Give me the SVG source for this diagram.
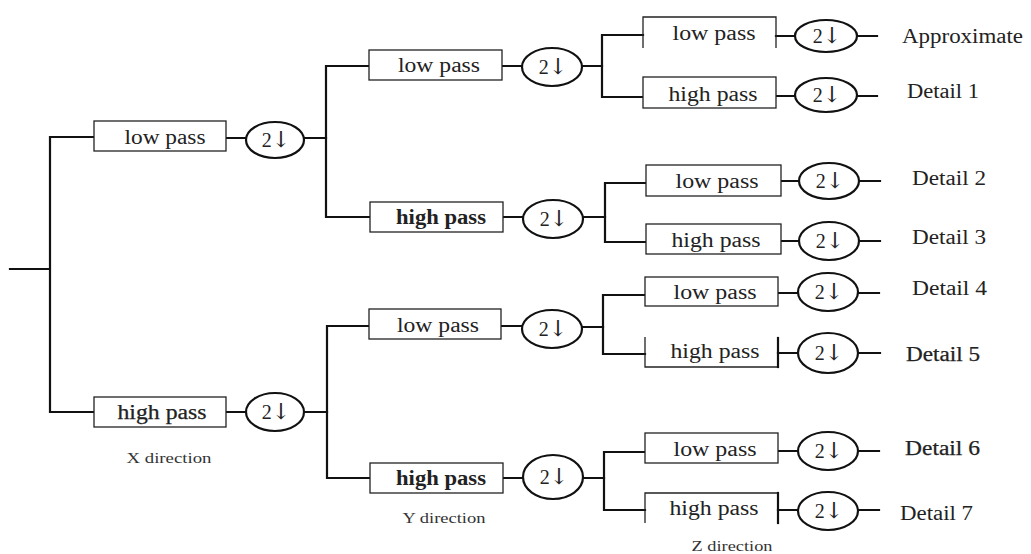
<svg xmlns="http://www.w3.org/2000/svg" width="1031" height="554" viewBox="0 0 1031 554">
  <style>
    .wire { stroke: #111; stroke-width: 2.2; fill: none; stroke-linecap: square; }
    .box { fill: #fff; stroke: #222; stroke-width: 1.3; }
    .edge { fill: none; stroke: #222; stroke-width: 1.3; }
    .ell { fill: #fff; stroke: #111; stroke-width: 2.2; }
    .lbl { font-family: "Liberation Serif", "Times New Roman", serif; font-size: 20px; fill: #222; text-anchor: middle; }
    .bold { font-weight: bold; }
    .semi { stroke: #222; stroke-width: 0.25; }
    .ds { font-family: "Liberation Serif", "Times New Roman", serif; font-size: 20px; fill: #222; text-anchor: middle; }
    .arr { font-family: "DejaVu Serif", serif; font-size: 22px; }
    .out { font-family: "Liberation Serif", "Times New Roman", serif; font-size: 20px; fill: #222; }
    .dir { font-family: "Liberation Serif", "Times New Roman", serif; font-size: 14px; fill: #333; text-anchor: middle; }
  </style>

  <!-- connectors: input trunk, branch buses and the short links between blocks -->
  <g id="connectors">
    <path class="wire" d="M10,269 H50 M50,137 V412 M50,137 H94 M50,412 H94"/>
    <path class="wire" d="M226,138 H246 M304,138 H326 M226,412 H246 M304,412 H327"/>
    <path class="wire" d="M326,66 V217 M326,66 H369 M326,217 H370"/>
    <path class="wire" d="M327,326 V478 M327,326 H369 M327,478 H370"/>
    <path class="wire" d="M502,66 H522 M582,66 H602 M503,217 H523 M583,217 H605"/>
    <path class="wire" d="M501,326 H522 M582,327 H603 M503,478 H523 M584,478 H604"/>
    <path class="wire" d="M602,35 V97 M602,35 H643 M602,97 H643"/>
    <path class="wire" d="M605,183 V242 M605,183 H646 M605,242 H646"/>
    <path class="wire" d="M603,295 V354 M603,295 H645 M603,354 H645"/>
    <path class="wire" d="M604,452 V510 M604,452 H645 M604,510 H645"/>
    <path class="wire" d="M776,36 H795 M857,36 H877 M776,96 H795 M857,96 H877"/>
    <path class="wire" d="M781,181 H799 M859,181 H880 M781,241 H799 M859,241 H880"/>
    <path class="wire" d="M778,293 H798 M858,293 H879 M778,353 H798 M858,353 H880"/>
    <path class="wire" d="M778,451 H798 M858,451 H879 M778,510 H798 M858,510 H879"/>
  </g>

  <!-- X direction stage -->
  <g id="x-low">
    <rect class="box" x="94" y="121" width="132" height="30"/>
    <text class="lbl" x="165" y="144" textLength="81" lengthAdjust="spacingAndGlyphs">low pass</text>
  </g>
  <g id="x-low-ds">
    <ellipse class="ell" cx="275" cy="140" rx="29" ry="18"/>
    <text class="ds" x="276" y="147">2<tspan class="arr">↓</tspan></text>
  </g>
  <g id="x-high">
    <rect class="box" x="94" y="397" width="132" height="30"/>
    <text class="lbl semi" x="162" y="419" textLength="89" lengthAdjust="spacingAndGlyphs">high pass</text>
  </g>
  <g id="x-high-ds">
    <ellipse class="ell" cx="275" cy="412" rx="29" ry="19"/>
    <text class="ds" x="276" y="419">2<tspan class="arr">↓</tspan></text>
  </g>
  <text class="dir" x="169" y="463" textLength="85" lengthAdjust="spacingAndGlyphs">X direction</text>

  <!-- Y direction stage -->
  <g id="y-low-1">
    <rect class="box" x="369" y="50" width="133" height="30"/>
    <text class="lbl" x="439" y="72" textLength="82" lengthAdjust="spacingAndGlyphs">low pass</text>
  </g>
  <g id="y-low-1-ds">
    <ellipse class="ell" cx="552" cy="67" rx="30" ry="19"/>
    <text class="ds" x="553" y="74">2<tspan class="arr">↓</tspan></text>
  </g>
  <g id="y-high-1">
    <rect class="box" x="370" y="202" width="133" height="30"/>
    <text class="lbl bold" x="441" y="224" textLength="90" lengthAdjust="spacingAndGlyphs">high pass</text>
  </g>
  <g id="y-high-1-ds">
    <ellipse class="ell" cx="553" cy="219" rx="30" ry="19"/>
    <text class="ds" x="554" y="226">2<tspan class="arr">↓</tspan></text>
  </g>
  <g id="y-low-2">
    <rect class="box" x="369" y="309" width="132" height="30"/>
    <text class="lbl" x="438" y="332" textLength="82" lengthAdjust="spacingAndGlyphs">low pass</text>
  </g>
  <g id="y-low-2-ds">
    <ellipse class="ell" cx="552" cy="329" rx="30" ry="19"/>
    <text class="ds" x="553" y="336">2<tspan class="arr">↓</tspan></text>
  </g>
  <g id="y-high-2">
    <rect class="box" x="370" y="463" width="133" height="30"/>
    <text class="lbl bold" x="441" y="485" textLength="90" lengthAdjust="spacingAndGlyphs">high pass</text>
  </g>
  <g id="y-high-2-ds">
    <ellipse class="ell" cx="553" cy="477" rx="30" ry="22"/>
    <text class="ds" x="554" y="484">2<tspan class="arr">↓</tspan></text>
  </g>
  <text class="dir" x="444" y="523" textLength="83" lengthAdjust="spacingAndGlyphs">Y direction</text>

  <!-- Z direction stage -->
  <g id="z-low-1">
    <path class="edge" d="M643,48 V17 H776 V48"/>
    <text class="lbl" x="714" y="40" textLength="83" lengthAdjust="spacingAndGlyphs">low pass</text>
  </g>
  <g id="z-low-1-ds">
    <ellipse class="ell" cx="826" cy="36" rx="31" ry="16"/>
    <text class="ds" x="827" y="43">2<tspan class="arr">↓</tspan></text>
  </g>
  <g id="z-high-1">
    <rect class="box" x="643" y="77" width="133" height="31"/>
    <text class="lbl" x="713" y="101" textLength="89" lengthAdjust="spacingAndGlyphs">high pass</text>
  </g>
  <g id="z-high-1-ds">
    <ellipse class="ell" cx="826" cy="95" rx="31" ry="17"/>
    <text class="ds" x="827" y="102">2<tspan class="arr">↓</tspan></text>
  </g>
  <g id="z-low-2">
    <rect class="box" x="646" y="165" width="135" height="31"/>
    <text class="lbl" x="717" y="188" textLength="83" lengthAdjust="spacingAndGlyphs">low pass</text>
  </g>
  <g id="z-low-2-ds">
    <ellipse class="ell" cx="829" cy="181" rx="30" ry="18"/>
    <text class="ds" x="830" y="188">2<tspan class="arr">↓</tspan></text>
  </g>
  <g id="z-high-2">
    <rect class="box" x="646" y="224" width="135" height="30"/>
    <text class="lbl" x="716" y="247" textLength="89" lengthAdjust="spacingAndGlyphs">high pass</text>
  </g>
  <g id="z-high-2-ds">
    <ellipse class="ell" cx="829" cy="241" rx="30" ry="19"/>
    <text class="ds" x="830" y="248">2<tspan class="arr">↓</tspan></text>
  </g>
  <g id="z-low-3">
    <rect class="box" x="645" y="277" width="133" height="29"/>
    <text class="lbl" x="715" y="299" textLength="83" lengthAdjust="spacingAndGlyphs">low pass</text>
  </g>
  <g id="z-low-3-ds">
    <ellipse class="ell" cx="828" cy="292" rx="30" ry="19"/>
    <text class="ds" x="829" y="299">2<tspan class="arr">↓</tspan></text>
  </g>
  <g id="z-high-3">
    <path class="edge" d="M645,337 V367 H778"/>
    <path class="wire" d="M778,338 V367"/>
    <text class="lbl" x="715" y="358" textLength="89" lengthAdjust="spacingAndGlyphs">high pass</text>
  </g>
  <g id="z-high-3-ds">
    <ellipse class="ell" cx="828" cy="353" rx="30" ry="20"/>
    <text class="ds" x="829" y="360">2<tspan class="arr">↓</tspan></text>
  </g>
  <g id="z-low-4">
    <rect class="box" x="645" y="433" width="133" height="30"/>
    <text class="lbl" x="715" y="456" textLength="83" lengthAdjust="spacingAndGlyphs">low pass</text>
  </g>
  <g id="z-low-4-ds">
    <ellipse class="ell" cx="828" cy="451" rx="30" ry="19"/>
    <text class="ds" x="829" y="458">2<tspan class="arr">↓</tspan></text>
  </g>
  <g id="z-high-4">
    <path class="edge" d="M645,523 V493 H778"/>
    <path class="wire" d="M778,493 V523"/>
    <text class="lbl" x="714" y="515" textLength="89" lengthAdjust="spacingAndGlyphs">high pass</text>
  </g>
  <g id="z-high-4-ds">
    <ellipse class="ell" cx="828" cy="511" rx="30" ry="19"/>
    <text class="ds" x="829" y="518">2<tspan class="arr">↓</tspan></text>
  </g>
  <text class="dir" x="732" y="551" style="font-size:15px" textLength="81" lengthAdjust="spacingAndGlyphs">Z direction</text>

  <!-- sub-band outputs -->
  <g id="outputs">
    <text class="out" x="902" y="43" textLength="121" lengthAdjust="spacingAndGlyphs">Approximate</text>
    <text class="out" x="907" y="98" textLength="72" lengthAdjust="spacingAndGlyphs">Detail 1</text>
    <text class="out" x="912" y="185" textLength="74" lengthAdjust="spacingAndGlyphs">Detail 2</text>
    <text class="out" x="912" y="244" textLength="74" lengthAdjust="spacingAndGlyphs">Detail 3</text>
    <text class="out" x="912" y="295" textLength="75" lengthAdjust="spacingAndGlyphs">Detail 4</text>
    <text class="out semi" x="906" y="361" textLength="74" lengthAdjust="spacingAndGlyphs">Detail 5</text>
    <text class="out semi" x="905" y="455" textLength="75" lengthAdjust="spacingAndGlyphs">Detail 6</text>
    <text class="out" x="900" y="520" textLength="73" lengthAdjust="spacingAndGlyphs">Detail 7</text>
  </g>
</svg>
